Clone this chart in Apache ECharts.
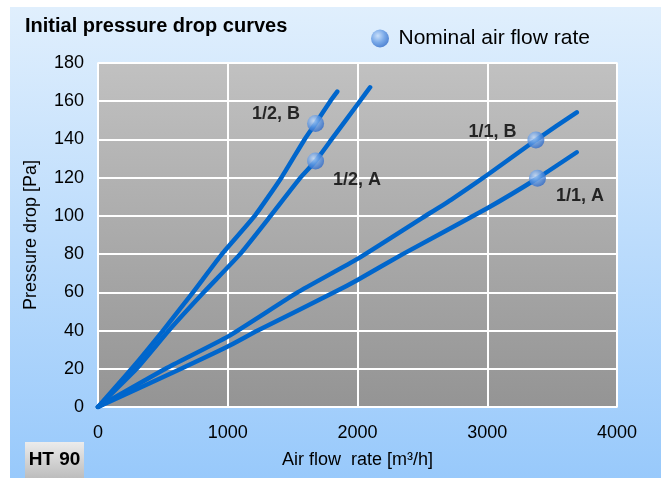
<!DOCTYPE html>
<html>
<head>
<meta charset="utf-8">
<script src="https://cdn.jsdelivr.net/npm/echarts@6/dist/echarts.min.js"></script>
<style>
html,body{margin:0;padding:0;background:#fff;}
#chart{width:661px;height:478px;}
</style>
</head>
<body>
<div id="chart"></div>
<script>
// ---- data ----
const xTicks = [0, 1000, 2000, 3000, 4000];
const yTicks = [0, 20, 40, 60, 80, 100, 120, 140, 160, 180];

const flow12B = [0, 259, 501, 732, 955, 1208, 1413, 1592, 1677, 1790, 1844];
const dp12B   = [0, 20, 40, 60, 80, 100, 120, 140, 148.4, 160, 165];

const flow12A = [0, 297, 546, 815, 1095, 1330, 1560, 1677, 1800, 2018, 2097];
const dp12A   = [0, 20, 40, 60, 80, 100, 120, 128.7, 140, 160, 167.3];

const flow11B = [0, 520, 1000, 1538, 2000, 2500, 2718, 3000, 3375, 3690];
const dp11B   = [0, 20, 36.8, 60, 77.5, 99, 108.3, 121.4, 139.7, 154.2];

const flow11A = [0, 640, 1000, 1231, 1820, 2000, 2349, 3000, 3387, 3690];
const dp11A   = [0, 20, 31.6, 40, 60, 66.5, 80, 104, 119.7, 133.3];

const nominalNames = ['1/2, B', '1/2, A', '1/1, B', '1/1, A'];
const nominalFlow  = [1677, 1677, 3375, 3387];
const nominalDp    = [148.4, 128.7, 139.7, 119.7];

// ---- build ----
const zip = (xs, ys) => xs.map((x, i) => [x, ys[i]]);
const FONT = '"Liberation Sans", Arial, sans-serif';
const lineColor = '#0066cc';

const labelSpecs = [
  {position: 'left',  offset: [-2, -9]},
  {position: 'right', offset: [4, 19]},
  {position: 'left',  offset: [-6, -8]},
  {position: 'right', offset: [5, 18]}
];

const sphere = {
  type: 'radial', x: 0.38, y: 0.35, r: 0.7,
  colorStops: [
    {offset: 0, color: '#c4dcfa'},
    {offset: 0.55, color: '#5f97e2'},
    {offset: 1, color: '#2a66c6'}
  ]
};

function lineSeries(name, xs, ys) {
  return {
    name: name, type: 'line', data: zip(xs, ys),
    showSymbol: false, symbol: 'none', smooth: 0.15,
    lineStyle: {color: lineColor, width: 4.5, cap: 'round', join: 'round'},
    itemStyle: {color: lineColor},
    z: 3, silent: true
  };
}

const chart = echarts.init(document.getElementById('chart'), null, {renderer: 'canvas'});

chart.setOption({
  animation: false,
  backgroundColor: '#ffffff',
  textStyle: {fontFamily: FONT},
  graphic: [
    {
      type: 'rect', left: 10, top: 7, z: -10,
      shape: {width: 651, height: 471},
      style: {
        fill: {
          type: 'linear', x: 0, y: 0, x2: 0, y2: 1,
          colorStops: [{offset: 0, color: '#e0effd'}, {offset: 1, color: '#98c9fb'}]
        }
      }
    },
    {
      type: 'group', left: 25, top: 442, z: 10,
      children: [
        {
          type: 'rect', shape: {width: 59, height: 36},
          style: {
            fill: {
              type: 'linear', x: 0, y: 0, x2: 0, y2: 1,
              colorStops: [{offset: 0, color: '#ececec'}, {offset: 1, color: '#bdbdbd'}]
            }
          }
        },
        {
          type: 'text', x: 29.5, y: 18,
          style: {
            text: 'HT 90', fill: '#000', font: 'bold 19px ' + FONT,
            align: 'center', verticalAlign: 'middle'
          }
        }
      ]
    }
  ],
  title: {
    text: 'Initial pressure drop curves',
    left: 25, top: 16, padding: 0,
    textStyle: {fontFamily: FONT, fontWeight: 'bold', fontSize: 20, color: '#000'}
  },
  legend: {
    data: ['Nominal air flow rate'],
    left: 371, top: 28, padding: 0,
    itemWidth: 19, itemHeight: 18, icon: 'circle',
    textStyle: {fontFamily: FONT, fontSize: 21, color: '#000', padding: [0, 0, 0, 4]}
  },
  grid: {
    left: 98, top: 63, width: 519, height: 344,
    show: true, borderColor: '#ffffff', borderWidth: 1.5,
    backgroundColor: {
      type: 'linear', x: 0, y: 0, x2: 0, y2: 1,
      colorStops: [{offset: 0, color: '#c1c1c1'}, {offset: 1, color: '#949494'}]
    }
  },
  xAxis: {
    type: 'value', min: xTicks[0], max: xTicks[xTicks.length - 1], interval: 1000,
    name: 'Air flow  rate [m\u00b3/h]', nameLocation: 'middle', nameGap: 44,
    nameTextStyle: {fontFamily: FONT, fontSize: 18, color: '#000'},
    axisLine: {show: false}, axisTick: {show: false},
    axisLabel: {fontFamily: FONT, fontSize: 18, color: '#000', margin: 17,
      formatter: v => String(v)},
    splitLine: {show: true, lineStyle: {color: '#ffffff', width: 2}}
  },
  yAxis: {
    type: 'value', min: yTicks[0], max: yTicks[yTicks.length - 1], interval: 20,
    name: 'Pressure drop [Pa]', nameLocation: 'middle', nameGap: 58, nameRotate: 90,
    nameTextStyle: {fontFamily: FONT, fontSize: 18, color: '#000'},
    axisLine: {show: false}, axisTick: {show: false},
    axisLabel: {fontFamily: FONT, fontSize: 18, color: '#000', margin: 14,
      formatter: v => String(v)},
    splitLine: {show: true, lineStyle: {color: '#ffffff', width: 2}}
  },
  series: [
    lineSeries('1/2, B', flow12B, dp12B),
    lineSeries('1/2, A', flow12A, dp12A),
    lineSeries('1/1, B', flow11B, dp11B),
    lineSeries('1/1, A', flow11A, dp11A),
    {
      name: 'Nominal air flow rate', type: 'scatter', symbol: 'circle', symbolSize: 17,
      itemStyle: {color: sphere},
      z: 5,
      data: nominalFlow.map((f, i) => ({
        value: [f, nominalDp[i]],
        name: nominalNames[i],
        label: {
          show: true, formatter: nominalNames[i],
          position: labelSpecs[i].position, offset: labelSpecs[i].offset,
          distance: 5,
          fontFamily: FONT, fontWeight: 'bold', fontSize: 18, color: '#000'
        }
      }))
    }
  ]
});
</script>
</body>
</html>
